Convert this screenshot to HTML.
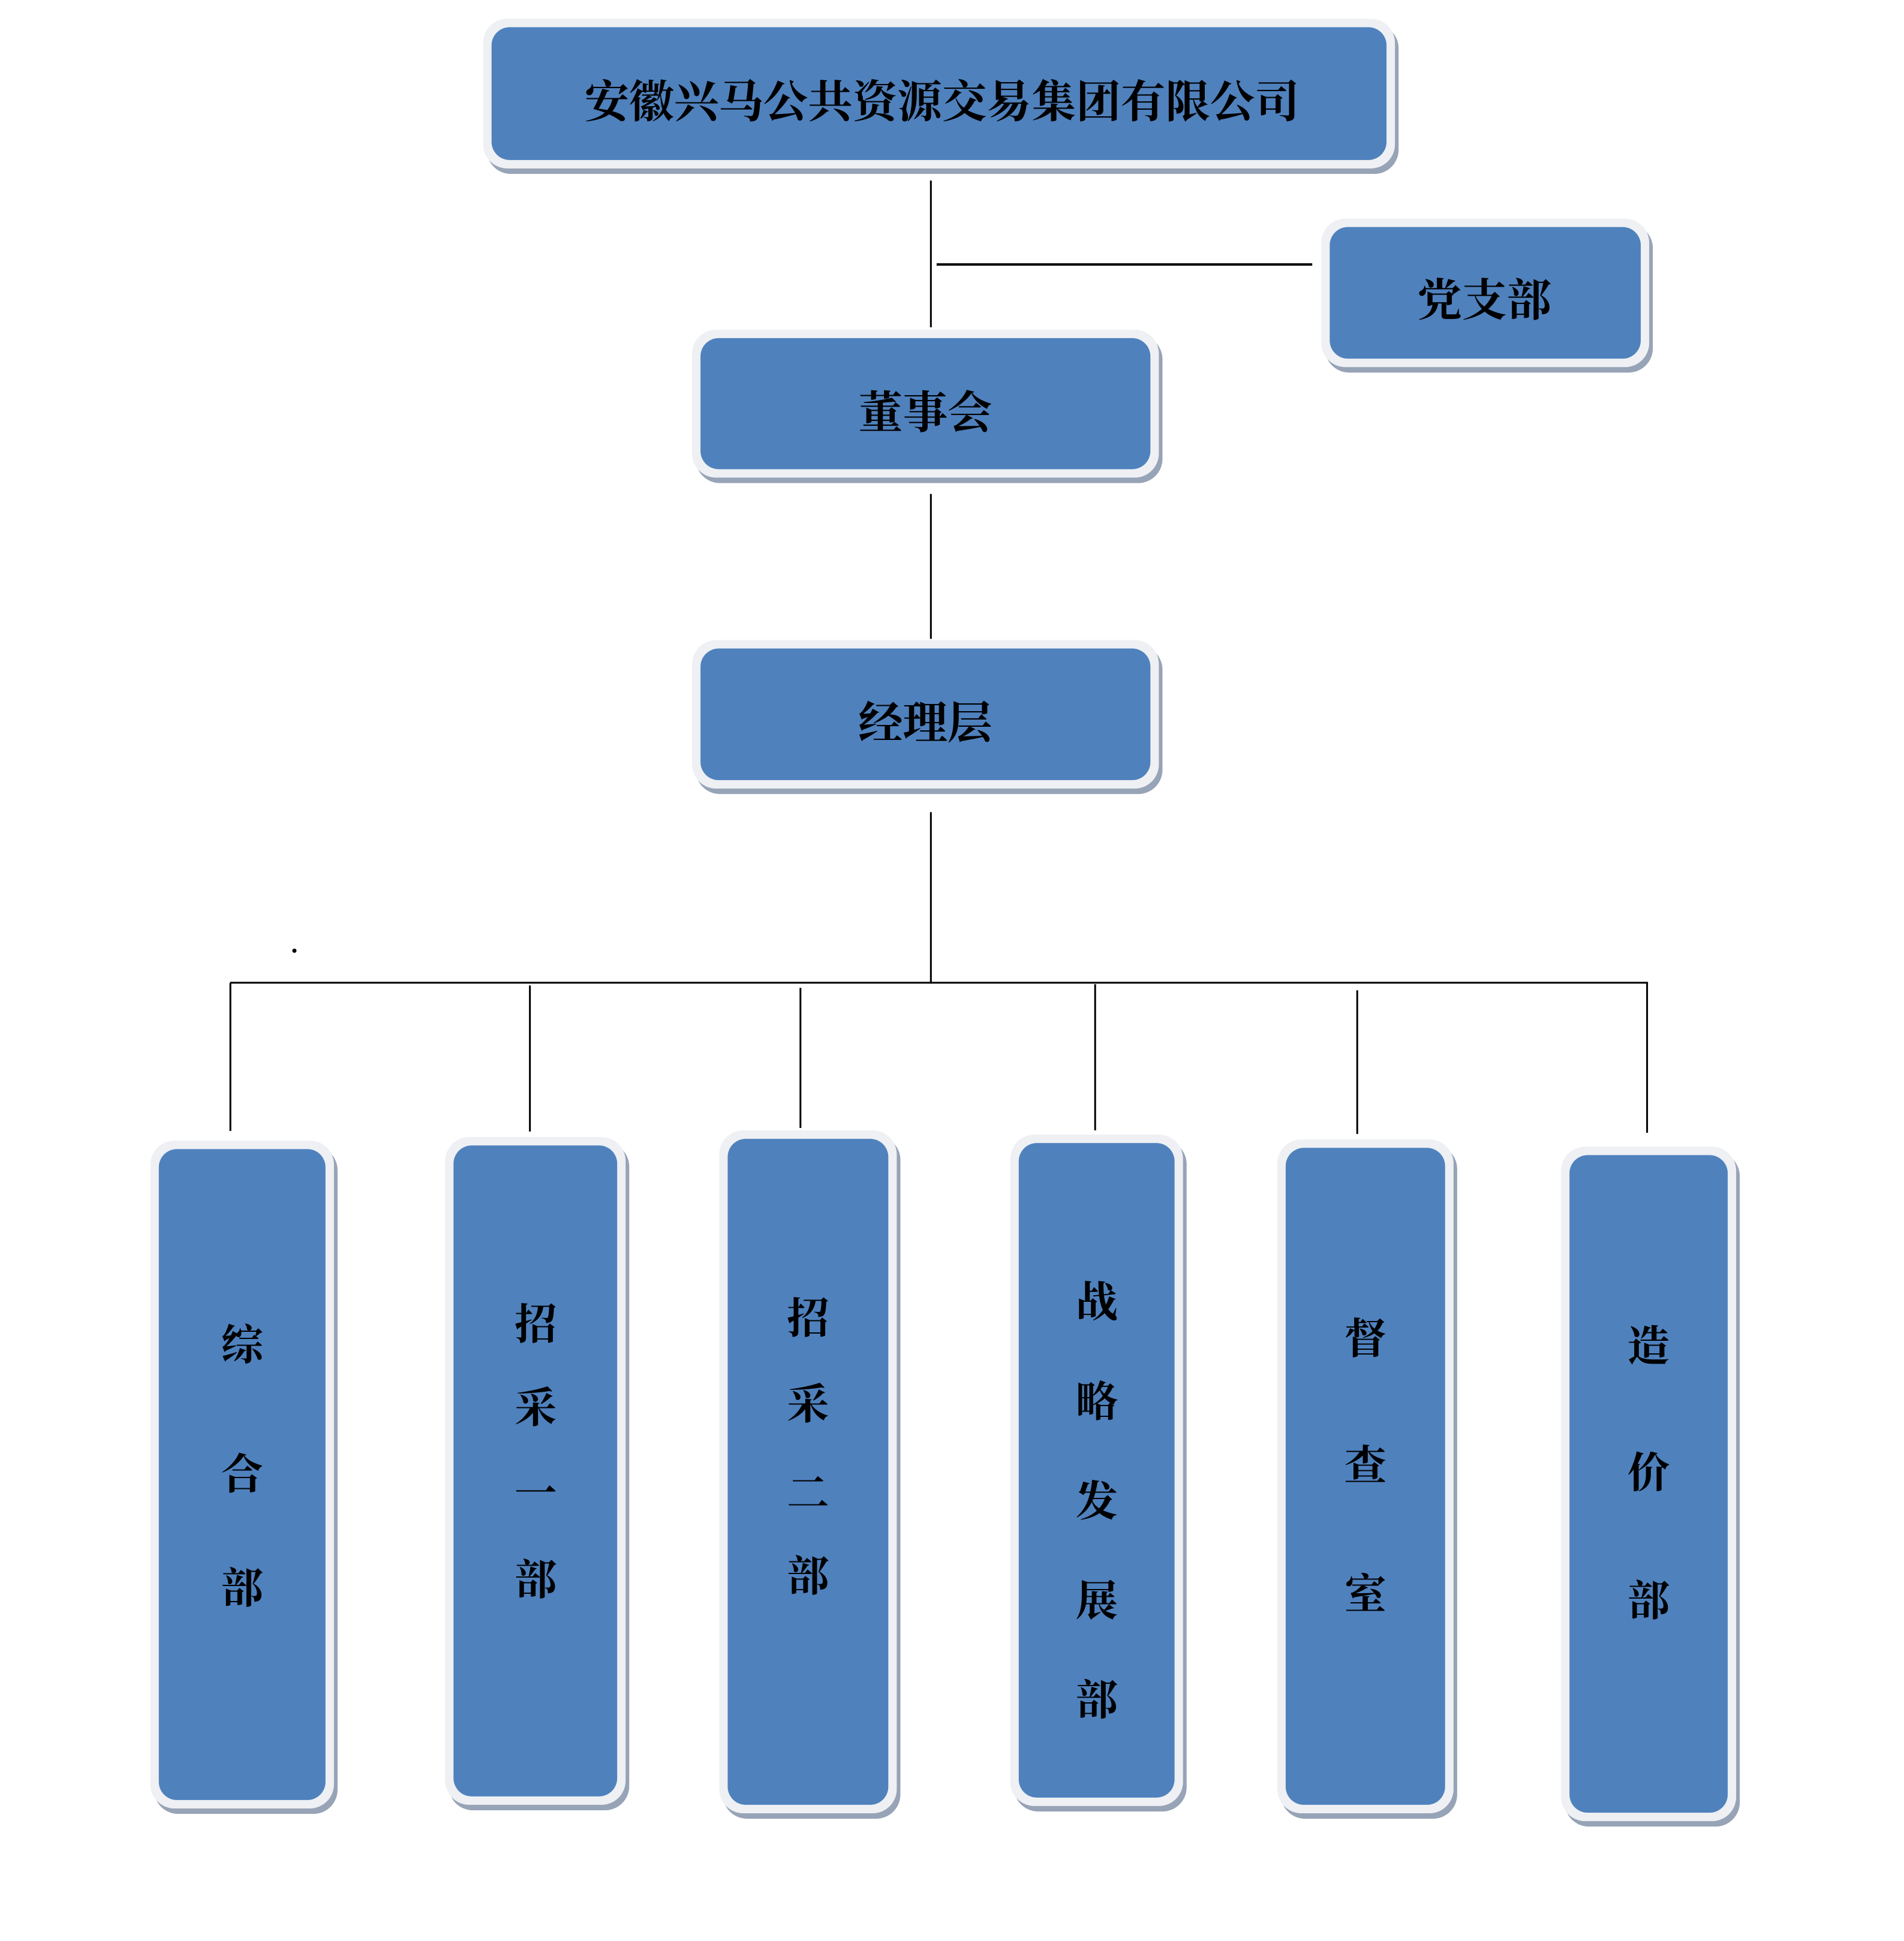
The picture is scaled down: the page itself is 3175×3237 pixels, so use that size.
<!DOCTYPE html>
<html><head><meta charset="utf-8"><style>
html,body{margin:0;padding:0;background:#fff;}
body{width:3175px;height:3214px;position:relative;overflow:hidden;font-family:"Liberation Serif","Noto Serif CJK SC",serif;}
#w{position:absolute;left:0;top:0;width:3175px;height:3214px;transform:scale(1.007);transform-origin:0 0;}
.o{position:absolute;background:#eef0f3;border-radius:40px;box-shadow:6px 9px 0 #97a3b6;}
.i{position:absolute;left:14px;top:14px;right:14px;bottom:14px;background:#4f81bd;border-radius:30px;}
.t{position:absolute;font-weight:bold;color:#000;font-size:74px;transform:translate(-50%,-50%);white-space:nowrap;}
.v{font-size:70px;}
.l{position:absolute;background:#000;}
</style></head><body><div id="w">
<div class="o" style="left:800px;top:31px;width:1510px;height:248px"><div class="i"></div></div>
<div class="o" style="left:2188px;top:362px;width:543px;height:246px"><div class="i"></div></div>
<div class="o" style="left:1146px;top:546px;width:773px;height:245px"><div class="i"></div></div>
<div class="o" style="left:1146px;top:1060px;width:773px;height:246px"><div class="i"></div></div>

<div class="o" style="left:249px;top:1889px;width:304px;height:1106px"><div class="i"></div></div>
<div class="o" style="left:737px;top:1883px;width:299px;height:1106px"><div class="i"></div></div>
<div class="o" style="left:1191px;top:1872px;width:294px;height:1131px"><div class="i"></div></div>
<div class="o" style="left:1673px;top:1879px;width:286px;height:1112px"><div class="i"></div></div>
<div class="o" style="left:2115px;top:1887px;width:292px;height:1116px"><div class="i"></div></div>
<div class="o" style="left:2585px;top:1899px;width:290px;height:1117px"><div class="i"></div></div>

<div class="l" style="left:1540px;top:299px;width:3px;height:243px"></div>
<div class="l" style="left:1551px;top:436px;width:622px;height:4px"></div>
<div class="l" style="left:1540px;top:818px;width:3px;height:240px"></div>
<div class="l" style="left:1540px;top:1345px;width:3px;height:284px"></div>
<div class="l" style="left:381px;top:1626px;width:2348px;height:3px"></div>
<div class="l" style="left:380px;top:1628px;width:3px;height:245px"></div>
<div class="l" style="left:876px;top:1632px;width:3px;height:242px"></div>
<div class="l" style="left:1324px;top:1636px;width:3px;height:232px"></div>
<div class="l" style="left:1812px;top:1630px;width:3px;height:242px"></div>
<div class="l" style="left:2246px;top:1640px;width:3px;height:238px"></div>
<div class="l" style="left:2726px;top:1628px;width:3px;height:248px"></div>
<div class="l" style="left:484px;top:1571px;width:7px;height:7px;border-radius:4px"></div>

<div class="t" style="left:1560px;top:163px">安徽兴马公共资源交易集团有限公司</div>
<div class="t" style="left:2458px;top:492px">党支部</div>
<div class="t" style="left:1532px;top:678px">董事会</div>
<div class="t" style="left:1532px;top:1192px">经理层</div>

<div class="t v" style="left:401px;top:2222px">综</div>
<div class="t v" style="left:401px;top:2436px">合</div>
<div class="t v" style="left:401px;top:2625px">部</div>

<div class="t v" style="left:887px;top:2188px">招</div>
<div class="t v" style="left:887px;top:2326px">采</div>
<div class="t v" style="left:887px;top:2468px">一</div>
<div class="t v" style="left:887px;top:2611px">部</div>

<div class="t v" style="left:1338px;top:2178px">招</div>
<div class="t v" style="left:1338px;top:2320px">采</div>
<div class="t v" style="left:1338px;top:2468px">二</div>
<div class="t v" style="left:1338px;top:2605px">部</div>

<div class="t v" style="left:1816px;top:2151px">战</div>
<div class="t v" style="left:1816px;top:2316px">略</div>
<div class="t v" style="left:1816px;top:2481px">发</div>
<div class="t v" style="left:1816px;top:2646px">展</div>
<div class="t v" style="left:1816px;top:2810px">部</div>

<div class="t v" style="left:2261px;top:2212px">督</div>
<div class="t v" style="left:2261px;top:2422px">查</div>
<div class="t v" style="left:2261px;top:2635px">室</div>

<div class="t v" style="left:2730px;top:2224px">造</div>
<div class="t v" style="left:2730px;top:2434px">价</div>
<div class="t v" style="left:2730px;top:2646px">部</div>
</div></body></html>
